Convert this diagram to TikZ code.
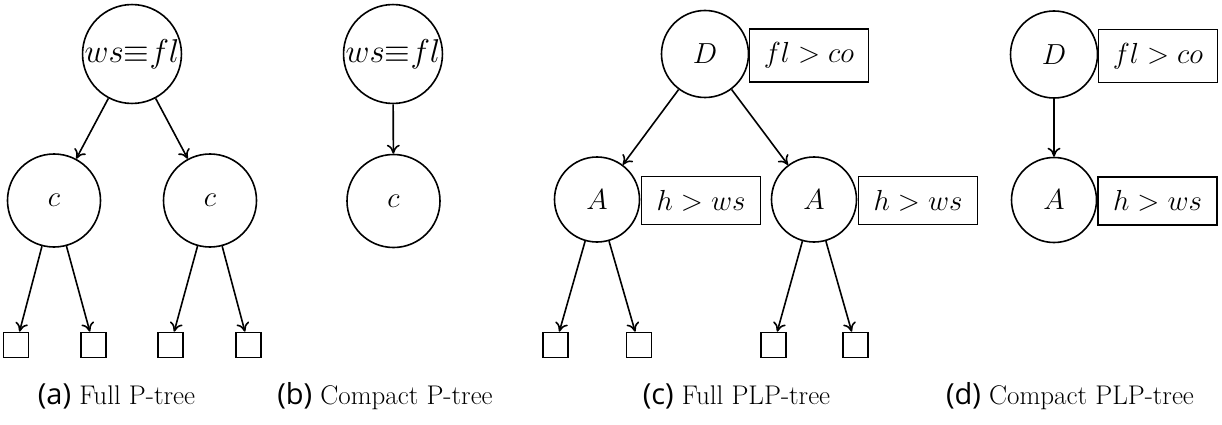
\RequirePackage{fix-cm}
\documentclass[tikz,border=0pt]{standalone}
\usepackage{fontspec}
\newfontfamily\capsans{Open Sans}
\usetikzlibrary{arrows.meta}
\begin{document}
\begin{tikzpicture}[x=1pt,y=-1pt,
  mathtxt/.style={font=\fontsize{29}{34}\selectfont},
  bigtxt/.style={font=\fontsize{33}{38}\selectfont},
  bignode/.style={draw, circle, line width=1.6pt, inner sep=0pt, minimum size=98pt, bigtxt},
  cnode/.style={draw, circle, line width=1.6pt, inner sep=0pt, minimum size=93pt, mathtxt},
  dnode/.style={draw, circle, line width=1.6pt, inner sep=0pt, minimum size=87pt, mathtxt},
  anode/.style={draw, circle, line width=1.6pt, inner sep=0pt, minimum size=85pt, mathtxt},
  rulebox/.style={draw, rectangle, line width=1.6pt, inner xsep=4pt, inner ysep=13.5pt, minimum width=119pt, mathtxt},
  leaf/.style={draw, rectangle, line width=1.6pt, inner sep=0pt, minimum size=25pt},
  arr/.style={draw, line width=1.6pt, -{To[length=9pt,width=13pt]}},
  caplabel/.style={anchor=base, font=\fontsize{27}{32}\selectfont}
]
\useasboundingbox (0,0) rectangle (1222,425);

% (a) Full P-tree
\node[bignode] (ra) at (132,54) {$ws{\equiv}fl$};
\node[cnode] (ca1) at (54,200.5) {$c$};
\node[cnode] (ca2) at (210,200.5) {$c$};
\node[leaf] (la1) at (16,345) {};
\node[leaf] (la2) at (93.5,345) {};
\node[leaf] (la3) at (170.5,345) {};
\node[leaf] (la4) at (248.5,345) {};
\draw[arr] (ra) -- (ca1);
\draw[arr] (ra) -- (ca2);
\draw[arr] (ca1) -- (la1);
\draw[arr] (ca1) -- (la2);
\draw[arr] (ca2) -- (la3);
\draw[arr] (ca2) -- (la4);

% (b) Compact P-tree
\node[bignode] (rb) at (393,54) {$ws{\equiv}fl$};
\node[cnode] (cb) at (393.5,201) {$c$};
\draw[arr] (rb) -- (cb);

% (c) Full PLP-tree
\node[dnode] (dc) at (705,54) {$D$};
\node[rulebox] (bc) at (809,55.5) {$fl>co$};
\node[anode] (ac1) at (597,199.5) {$A$};
\node[rulebox] (bc1) at (701,200.5) {$h>ws$};
\node[anode] (ac2) at (814,199.5) {$A$};
\node[rulebox] (bc2) at (918,200.5) {$h>ws$};
\node[leaf] (lc1) at (555.5,345) {};
\node[leaf] (lc2) at (639,345) {};
\node[leaf] (lc3) at (773.5,345) {};
\node[leaf] (lc4) at (855.5,345) {};
\draw[arr] (dc) -- (ac1);
\draw[arr] (dc) -- (ac2);
\draw[arr] (ac1) -- (lc1);
\draw[arr] (ac1) -- (lc2);
\draw[arr] (ac2) -- (lc3);
\draw[arr] (ac2) -- (lc4);

% (d) Compact PLP-tree
\node[dnode] (dd) at (1054,54.5) {$D$};
\node[rulebox] (bd) at (1158,56) {$fl>co$};
\node[anode] (ad) at (1054,200) {$A$};
\node[rulebox] (bd1) at (1157.5,201) {$h>ws$};
\draw[arr] (dd) -- (ad);

% captions
\node[caplabel] (capa) at (116.5,404) {{\capsans\fontsize{29}{32}\selectfont (a)} Full P-tree};
\node[caplabel] (capb) at (385,404) {{\capsans\fontsize{29}{32}\selectfont (b)} Compact P-tree};
\node[caplabel] (capc) at (736.5,404) {{\capsans\fontsize{29}{32}\selectfont (c)} Full PLP-tree};
\node[caplabel] (capd) at (1070,404) {{\capsans\fontsize{29}{32}\selectfont (d)} Compact PLP-tree};
\end{tikzpicture}
\end{document}
